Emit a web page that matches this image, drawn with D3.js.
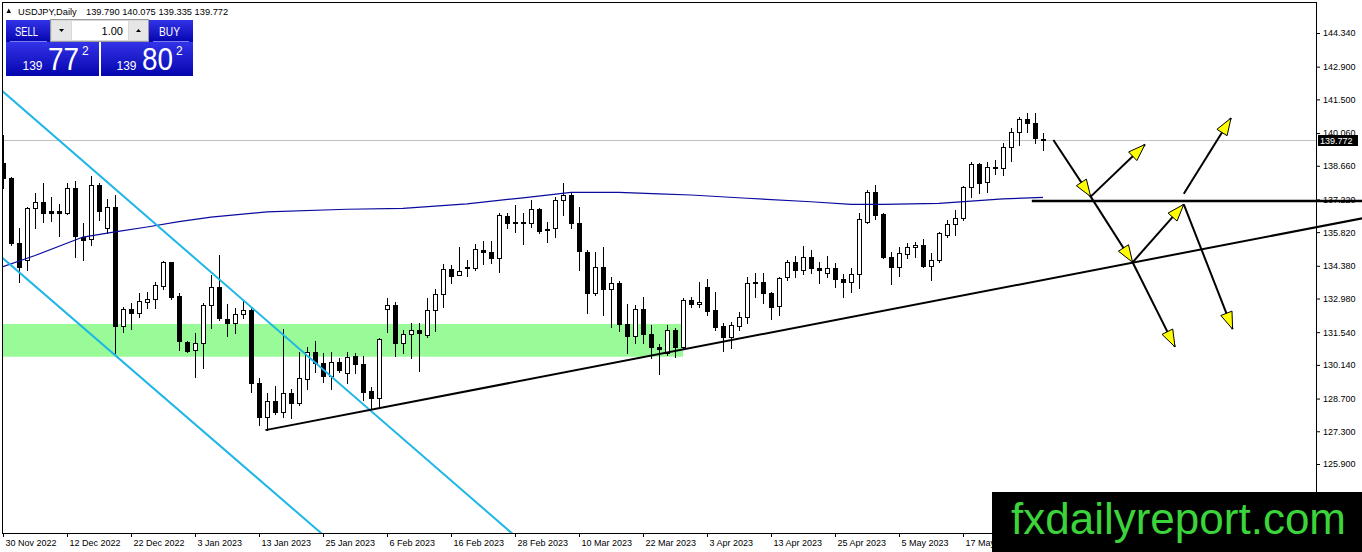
<!doctype html>
<html>
 <head>
 <meta charset="utf-8">
 <title>USDJPY,Daily</title>
	<script src="https://d3js.org/d3.v7.min.js"></script>
	<style>
body {
    margin: 0;
    background: #fff;
	}
svg {
    display: block;
    font-family: 'Liberation Sans', Arial, sans-serif;
	}
	</style>
  </head>
  <body>
	<svg id="chart" width="1362" height="552"></svg>
	 <script>

//// data ////

var symbol = "USDJPY,Daily";
var lastBar = ["139.790", "140.075", "139.335", "139.772"];
var bid = 139.772;

var opens = [138.78,138.15,135.34,134.63,136.84,137.10,136.72,136.72,136.62,137.70,
135.62,135.51,137.84,135.98,136.91,131.80,132.52,132.37,132.84,132.94,
133.51,134.53,133.10,131.10,130.77,131.06,132.70,133.46,132.09,131.94,
132.30,132.49,129.35,127.92,128.61,128.14,128.95,128.49,129.53,130.70,
130.21,129.66,130.28,129.78,130.52,130.16,129.02,128.73,132.52,132.69,
131.09,131.45,131.62,131.42,132.49,133.16,134.23,133.98,134.28,134.30,
135.05,134.98,134.73,136.51,136.24,136.22,136.22,136.80,135.95,135.98,
137.19,137.41,136.20,134.98,133.23,134.31,133.37,133.63,131.89,131.37,
132.52,131.46,130.92,130.63,131.63,130.92,132.92,132.73,133.46,132.49,
131.80,131.35,131.80,132.20,133.70,133.70,133.20,132.66,133.89,134.53,
134.20,134.74,134.27,134.08,134.27,133.80,133.70,134.03,136.27,137.55,
136.59,134.77,134.31,134.88,135.17,135.25,134.38,134.63,135.70,136.17,
136.41,137.74,138.74,137.98,138.62,138.58,139.47,140.09,140.65,140.48,
139.79];

var highs = [139.98,138.20,136.00,136.91,137.51,137.91,137.31,137.02,137.94,138.02,
136.20,138.23,137.91,137.24,137.41,132.63,132.77,133.20,133.27,133.70,
134.58,134.55,133.20,131.17,131.49,132.77,133.98,134.84,132.74,132.56,
132.92,132.56,129.56,128.92,129.23,131.66,129.09,130.70,130.91,131.17,
130.63,130.70,130.42,130.70,130.63,130.52,129.21,131.30,132.99,132.84,
131.63,131.94,131.94,132.99,133.37,134.46,134.41,135.17,134.63,135.30,
135.44,135.44,136.62,136.62,136.98,136.62,137.19,136.84,136.27,137.34,
137.94,137.48,136.91,135.05,134.98,135.20,133.89,133.74,132.74,132.70,
133.06,131.84,131.02,131.84,131.70,132.99,133.06,133.70,133.80,133.27,
131.92,131.98,132.41,133.91,134.06,134.08,133.27,133.91,134.63,134.80,
135.23,135.05,134.55,134.80,134.51,134.03,134.27,136.62,137.62,137.84,
136.65,134.98,135.20,135.37,135.41,135.51,134.91,135.84,136.34,136.77,
137.79,138.83,138.79,138.83,138.91,139.62,140.26,140.76,140.93,140.93,
140.075];

var lows = [137.70,135.25,133.70,134.21,135.98,136.27,136.30,135.65,136.58,134.74,
134.63,135.28,136.34,135.79,130.63,131.56,131.67,132.20,132.56,132.56,
133.37,132.94,130.77,130.70,129.61,129.99,131.70,132.06,131.39,131.49,
132.13,128.99,127.57,127.35,128.04,127.92,127.85,128.42,129.12,129.85,
129.42,129.09,129.85,129.35,129.81,128.64,128.24,128.35,131.56,130.52,
130.66,130.42,129.89,131.35,131.60,132.60,133.66,133.98,133.95,134.20,
134.44,134.51,134.13,135.98,135.84,135.30,136.05,135.77,135.41,135.62,
136.55,135.98,134.20,132.35,133.13,132.27,131.77,131.60,130.63,131.09,
131.09,130.42,129.75,130.56,130.49,130.85,132.63,132.63,132.27,131.63,
130.75,130.85,131.63,131.92,133.06,132.80,132.09,132.27,133.77,133.91,
134.03,134.08,133.63,133.91,133.46,133.06,133.27,133.42,136.20,136.37,
134.72,133.60,133.94,134.70,134.77,134.33,133.77,134.55,135.62,135.70,
136.34,137.34,137.48,137.55,138.31,138.26,138.88,139.55,140.12,139.65,
139.335];

var closes = [138.12,135.34,134.31,136.84,137.10,136.65,136.65,136.62,137.70,135.65,
135.48,137.84,136.74,136.91,131.80,132.52,132.37,132.87,132.94,133.56,
134.55,133.06,131.17,130.75,131.06,132.70,133.46,132.13,131.94,132.30,
132.47,129.35,127.92,128.61,128.14,128.95,128.49,129.56,130.70,130.21,
129.66,130.28,129.92,130.49,130.16,128.99,128.73,131.23,132.69,131.09,
131.45,131.62,131.49,132.49,133.17,134.23,133.95,134.17,134.31,135.08,
134.96,134.73,136.55,136.22,136.22,136.24,136.80,135.88,135.93,137.19,
137.41,136.20,135.02,133.23,134.31,133.37,133.63,131.89,131.37,132.52,
131.46,130.89,130.81,131.63,130.92,132.92,132.73,132.82,132.46,131.77,
131.35,131.83,132.20,133.66,133.66,133.20,132.60,133.84,134.53,134.20,
134.77,134.27,134.20,134.27,133.80,133.70,134.03,136.37,137.55,136.55,
134.77,134.31,134.91,135.17,135.25,134.38,134.63,135.77,136.17,136.41,
137.74,138.74,137.94,138.62,138.58,139.47,140.09,140.65,140.48,139.83,
139.772];

// moving average, read at some bars
var maIdx = [0,4,10,14,18,22,26,33,43,50,58,65,71,77,82,86,93,101,106,110,117,125,130];
var maVal = [134.34,134.82,135.61,135.83,136.04,136.27,136.46,136.69,136.80,136.84,137.03,137.29,
137.52,137.52,137.46,137.41,137.27,137.12,137.01,137.01,137.05,137.24,137.31];

// axis labels
var priceTicks = [144.34,142.90,141.50,140.06,138.66,137.22,135.82,134.38,132.98,131.54,130.14,128.70,127.30,125.90];
var dateIdx = [0,8,16,24,32,40,48,56,64,72,80,88,96,104,112,120];
var dateLabels = ["30 Nov 2022","12 Dec 2022","22 Dec 2022","3 Jan 2023","13 Jan 2023","25 Jan 2023",
"6 Feb 2023","16 Feb 2023","28 Feb 2023","10 Mar 2023","22 Mar 2023","3 Apr 2023","13 Apr 2023",
"25 Apr 2023","5 May 2023","17 May 2023"];

// drawn objects: [bar, price, bar, price]
var zone = [-1, 131.89, 85, 130.49];
var channelUp = [0, 141.83, 40, 129.95];
var channelDown = [0, 134.70, 30, 125.83];
var support = [32.8, 127.35, 85, 130.80];
var level = [128.6, 137.16, 170];
var arrows = [
  [131.3,139.76,135.96,137.34],
  [135.96,137.34,142.75,139.57],
  [135.96,137.34,141.2,134.53],
  [141.2,134.53,147.6,137.01],
  [141.2,134.53,146.5,130.91],
  [147.6,137.46,153.5,140.70],
  [147.6,137.01,153.7,131.67]
];

//////////////

var width = 1362, height = 552;
var plotLeft = 3, plotRight = 1316, plotTop = 3, plotBottom = 533;

var svg = d3.select("#chart");

var x = d3.scaleLinear().domain([0,164]).range([3,1315]);
var y = d3.scaleLinear().domain([125.90,144.34]).range([464,33]);

var defs = svg.append("defs");

defs.append("clipPath").attr("id","plotClip")
	.append("rect")
	.attr("x",plotLeft).attr("y",plotTop)
	.attr("width",plotRight-plotLeft).attr("height",plotBottom-plotTop);

var grad = defs.append("linearGradient").attr("id","blue")
	.attr("x1",0).attr("y1",0).attr("x2",0).attr("y2",1);
grad.append("stop").attr("offset","0%").attr("stop-color","#3333e8");
grad.append("stop").attr("offset","100%").attr("stop-color","#0505ae");

var plot = svg.append("g").attr("clip-path","url(#plotClip)");

// green zone
plot.append("rect")
	.attr("x",x(zone[0]))
	.attr("y",y(zone[1]))
	.attr("width",x(zone[2])-x(zone[0]))
	.attr("height",y(zone[3])-y(zone[1]))
	.attr("fill","#98fb98");

// bid line
var bidY = Math.round(y(bid))+0.5;
plot.append("line")
	.attr("x1",plotLeft).attr("x2",plotRight)
	.attr("y1",bidY).attr("y2",bidY)
	.attr("stroke","#c0c0c0");

// candles
var bars = d3.range(opens.length);

var candle = plot.append("g").attr("shape-rendering","crispEdges")
	.selectAll(".candle")
	.data(bars)
	.enter().append("g")
	.attr("class","candle");

candle.append("line")
	.attr("x1",function(i){ return Math.round(x(i))+0.5; })
	.attr("x2",function(i){ return Math.round(x(i))+0.5; })
	.attr("y1",function(i){ return Math.round(y(highs[i])); })
	.attr("y2",function(i){ return Math.round(y(lows[i]))+1; })
	.attr("stroke","#000");

candle.append("rect")
	.attr("x",function(i){
		var cx = Math.round(x(i));
		return closes[i] >= opens[i] ? cx-1.5 : cx-2;
	})
	.attr("y",function(i){
		var top = Math.round(y(Math.max(opens[i],closes[i])));
		return closes[i] >= opens[i] ? top+0.5 : top;
	})
	.attr("width",function(i){ return closes[i] >= opens[i] ? 4 : 5; })
	.attr("height",function(i){
		var top = Math.round(y(Math.max(opens[i],closes[i])));
		var bot = Math.round(y(Math.min(opens[i],closes[i])));
		return closes[i] >= opens[i] ? Math.max(bot-top,0) : Math.max(bot-top+1,1);
	})
	.attr("fill",function(i){ return closes[i] >= opens[i] ? "#fff" : "#000"; })
	.attr("stroke",function(i){ return closes[i] >= opens[i] ? "#000" : "none"; });

// moving average
var maLine = d3.line()
	.x(function(d){ return x(d); })
	.y(function(d,k){ return y(maVal[k]); });

plot.append("path")
	.attr("d",maLine(maIdx))
	.attr("fill","none")
	.attr("stroke","#0a0a9e")
	.attr("stroke-width",1.2);

// trend line helper: extend through two anchors
function lineAt(a,i){
	return a[1] + (a[3]-a[1])*(i-a[0])/(a[2]-a[0]);
}

[channelUp,channelDown].forEach(function(a){
	plot.append("line")
		.attr("x1",x(-2)).attr("y1",y(lineAt(a,-2)))
		.attr("x2",x(90)).attr("y2",y(lineAt(a,90)))
		.attr("stroke","#1fb6e8")
		.attr("stroke-width",2);
});

// objects that run over the price scale
var over = svg.append("g");

over.append("line")
	.attr("x1",x(support[0])).attr("y1",y(support[1]))
	.attr("x2",x(170)).attr("y2",y(lineAt(support,170)))
	.attr("stroke","#000")
	.attr("stroke-width",2);

// frame
svg.append("rect")
	.attr("x",2.5).attr("y",2.5)
	.attr("width",plotRight-2).attr("height",plotBottom-2)
	.attr("fill","none")
	.attr("stroke","#000")
	.attr("shape-rendering","crispEdges");

// price axis
var yAxis = d3.axisRight(y)
	.tickValues(priceTicks)
	.tickFormat(d3.format(".3f"))
	.tickSize(4);

var gy = svg.append("g")
	.attr("transform","translate(" + plotRight + ",0)")
	.call(yAxis);
gy.select(".domain").remove();
gy.selectAll("text").attr("font-size",9).attr("font-family","'Liberation Sans', Arial, sans-serif").attr("fill","#000");

// date axis
var xAxis = d3.axisBottom(x)
	.tickValues(dateIdx)
	.tickFormat(function(d,k){ return dateLabels[k]; })
	.tickSize(4);

var gx = svg.append("g")
	.attr("transform","translate(0," + plotBottom + ")")
	.call(xAxis);
gx.select(".domain").remove();
gx.selectAll("text")
	.attr("text-anchor","start")
	.attr("x",2)
	.attr("font-size",9)
	.attr("font-family","'Liberation Sans', Arial, sans-serif")
	.attr("fill","#000");

// horizontal level and arrows
svg.append("line")
	.attr("x1",x(level[0])).attr("x2",x(level[2]))
	.attr("y1",Math.round(y(level[1]))).attr("y2",Math.round(y(level[1])))
	.attr("stroke","#000")
	.attr("stroke-width",2.4);

arrows.forEach(function(a){
	var x0 = x(a[0]), y0 = y(a[1]), x1 = x(a[2]), y1 = y(a[3]);
	var len = Math.sqrt((x1-x0)*(x1-x0)+(y1-y0)*(y1-y0));
	var ux = (x1-x0)/len, uy = (y1-y0)/len;
	svg.append("line")
		.attr("x1",x0).attr("y1",y0).attr("x2",x1).attr("y2",y1)
		.attr("stroke","#000")
		.attr("stroke-width",2);
	var bx = x1-ux*17, by = y1-uy*17;
	var pts = [[x1,y1],[bx-uy*6,by+ux*6],[bx+uy*6,by-ux*6]];
	svg.append("polygon")
		.attr("points",pts.map(function(p){ return p.join(","); }).join(" "))
		.attr("fill","#ffff00")
		.attr("stroke","#000")
		.attr("stroke-width",1);
});

// bid label
svg.append("rect")
	.attr("x",1318).attr("y",Math.round(y(bid))-5)
	.attr("width",40).attr("height",11)
	.attr("fill","#000");
svg.append("text")
	.attr("x",1320).attr("y",Math.round(y(bid))+4)
	.attr("font-size",9)
	.attr("fill","#fff")
	.text(d3.format(".3f")(bid));

// header
svg.append("path")
	.attr("d","M6.5,13 L11,13 L8.75,8.5 Z")
	.attr("fill","#000");
svg.append("text")
	.attr("x",18).attr("y",14.5)
	.attr("font-size",9.3)
	.attr("fill","#000")
	.text(symbol);
svg.append("text")
	.attr("x",86).attr("y",14.5)
	.attr("font-size",9.3)
	.attr("fill","#000")
	.text(lastBar.join(" "));

//// one click trading panel ////

var panel = svg.append("g");

panel.append("rect").attr("x",6).attr("y",20).attr("width",44).attr("height",22).attr("fill","url(#blue)");
panel.append("rect").attr("x",149).attr("y",20).attr("width",44).attr("height",22).attr("fill","url(#blue)");
panel.append("rect").attr("x",6).attr("y",42).attr("width",93).attr("height",34).attr("fill","url(#blue)");
panel.append("rect").attr("x",101).attr("y",42).attr("width",92).attr("height",34).attr("fill","url(#blue)");

panel.append("line").attr("x1",10).attr("x2",47).attr("y1",41.5).attr("y2",41.5).attr("stroke","#7b7bf2");
panel.append("line").attr("x1",153).attr("x2",189).attr("y1",41.5).attr("y2",41.5).attr("stroke","#7b7bf2");

panel.append("rect").attr("x",50.5).attr("y",19.5).attr("width",98).attr("height",22)
	.attr("fill","#d8d8d8").attr("stroke","#9a9a9a");
panel.append("rect").attr("x",52).attr("y",21).attr("width",19).attr("height",19).attr("fill","#e6e6e6");
panel.append("rect").attr("x",72).attr("y",21).attr("width",56).attr("height",19).attr("fill","#fff");
panel.append("rect").attr("x",129).attr("y",21).attr("width",19).attr("height",19).attr("fill","#e6e6e6");
panel.append("path").attr("d","M59,29 L64,29 L61.5,32 Z").attr("fill","#000");
panel.append("path").attr("d","M136,32 L141,32 L138.5,29 Z").attr("fill","#000");

panel.append("text").attr("x",123).attr("y",34.5).attr("text-anchor","end")
	.attr("font-size",11).attr("fill","#000").text("1.00");

panel.append("text").attr("x",15).attr("y",36).attr("font-size",13)
	.attr("textLength",23).attr("lengthAdjust","spacingAndGlyphs")
	.attr("fill","#fff").text("SELL");
panel.append("text").attr("x",159).attr("y",36).attr("font-size",13)
	.attr("textLength",21).attr("lengthAdjust","spacingAndGlyphs")
	.attr("fill","#fff").text("BUY");

var quotes = [
	{x:22.5, big:"77"},
	{x:116.5, big:"80"}
];
quotes.forEach(function(q){
	panel.append("text").attr("x",q.x).attr("y",70).attr("font-size",12)
		.attr("textLength",20).attr("lengthAdjust","spacingAndGlyphs")
		.attr("fill","#fff").text("139");
	panel.append("text").attr("x",q.x+25.5).attr("y",70).attr("font-size",32)
		.attr("textLength",31).attr("lengthAdjust","spacingAndGlyphs")
		.attr("fill","#fff").text(q.big);
	panel.append("text").attr("x",q.x+59.5).attr("y",55).attr("font-size",12)
		.attr("fill","#fff").text("2");
});

//// watermark ////

svg.append("rect")
	.attr("x",992).attr("y",492)
	.attr("width",370).attr("height",60)
	.attr("fill","#000");
svg.append("text")
	.attr("x",1011).attr("y",534)
	.attr("font-size",44)
	.attr("fill","#3bd43b")
	.text("fxdailyreport.com");

	</script>
  </body>
</html>
